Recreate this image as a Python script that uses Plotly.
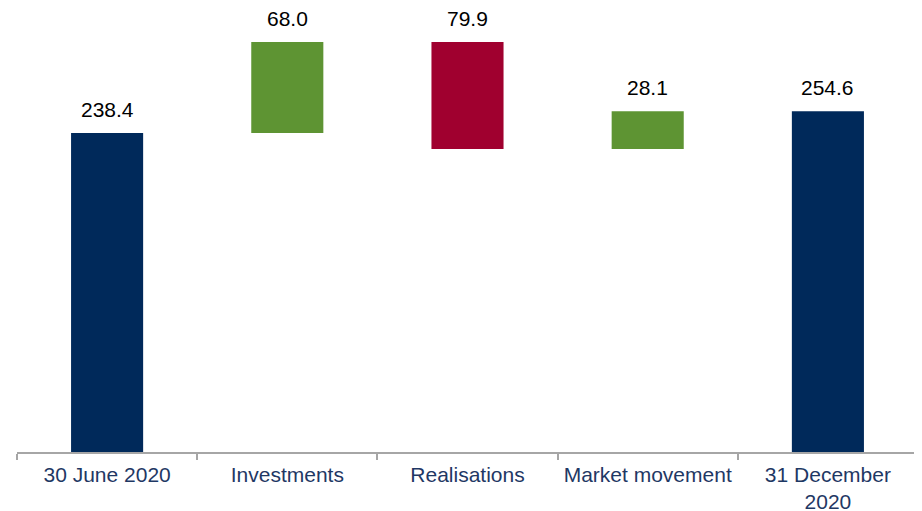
import plotly.graph_objects as go

categories = ["30 June 2020", "Investments", "Realisations", "Market movement", "31 December<br>2020"]
values = [238.4, 68.0, -79.9, 28.1, 254.6]
measures = ["absolute", "relative", "relative", "relative", "total"]
labels = ["238.4", "68.0", "79.9", "28.1", "254.6"]

NAVY = "#00295A"
GREEN = "#5E9433"
RED = "#A0002F"
FONT = "Arial, Liberation Sans, sans-serif"

fig = go.Figure(go.Waterfall(
    x=categories,
    y=values,
    measure=measures,
    increasing=dict(marker=dict(color=GREEN)),
    decreasing=dict(marker=dict(color=RED)),
    totals=dict(marker=dict(color=NAVY)),
    connector=dict(visible=False),
    textposition="none",
    hoverinfo="skip",
))

# compute bar tops for labels
tops = []
running = 0.0
for v, m in zip(values, measures):
    if m == "absolute":
        running = v
        tops.append(v)
    elif m == "total":
        tops.append(running)
    else:
        start = running
        running += v
        tops.append(max(start, running))

for c, t, lab in zip(categories, tops, labels):
    fig.add_annotation(x=c, y=t, text=lab, showarrow=False, yanchor="bottom",
                       yshift=10, font=dict(family=FONT, size=21, color="#000000"))

fig.update_layout(
    width=914, height=503,
    margin=dict(l=9, r=4, t=0, b=59, autoexpand=False),
    paper_bgcolor="white", plot_bgcolor="white",
    waterfallgap=0.6,
    showlegend=False,
    font=dict(family=FONT, size=21, color="#1F3864"),
    xaxis=dict(
        type="category", automargin=False,
        showline=True, linecolor="#A6A6A6", linewidth=1.5,
        ticks="outside", tickson="boundaries", ticklen=6, tickcolor="#A6A6A6", tickwidth=1.5,
        ticklabelstandoff=3,
        tickfont=dict(family=FONT, size=21, color="#1F3864"),
        showgrid=False, zeroline=False,
    ),
    yaxis=dict(range=[0, 331.8], visible=False, automargin=False, showgrid=False, zeroline=False),
)

fig.write_html("out.html")
